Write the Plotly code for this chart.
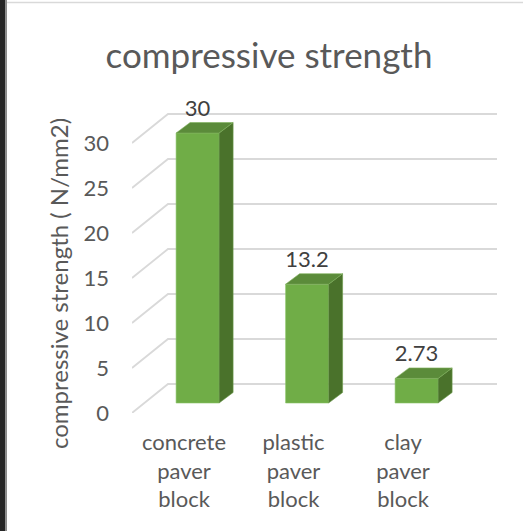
import plotly.graph_objects as go

# ---- data ----
categories = ["concrete<br>paver<br>block", "plastic<br>paver<br>block", "clay<br>paver<br>block"]
values = [30, 13.2, 2.73]
y_ticks = [0, 5, 10, 15, 20, 25, 30]
title_text = "compressive strength"
y_title = "compressive strength ( N/mm2)"

# ---- layout geometry (pixels) ----
W, H = 523, 531
L, R, T, B = 132, 505, 100, 413
PX_PER_CAT = 109.5
PX_PER_UNIT = 9.0
CAT0_PX = 184
xmin = (L - CAT0_PX) / PX_PER_CAT
xmax = (R - CAT0_PX) / PX_PER_CAT
ymax = (B - T) / PX_PER_UNIT

# 3D offsets, in axis units
BACK_DX = 36 / PX_PER_CAT
BACK_DY = 29 / PX_PER_UNIT
BACK_RIGHT = (497 - CAT0_PX) / PX_PER_CAT
BAR_DX = 13.6 / PX_PER_CAT
BAR_BASE = 10 / PX_PER_UNIT
BAR_W = 43 / PX_PER_CAT
DEPTH_DX = 14 / PX_PER_CAT
DEPTH_DY = 10.5 / PX_PER_UNIT
LABEL_OFF = 23 / PX_PER_UNIT

TXT = "#595959"
FONT = "Lato"
GRID = "#d9d9d9"
FRONT = "#70ad47"
TOP = "#5b8b3a"
SIDE = "#4a722b"

fig = go.Figure()

# back wall gridlines with floor diagonals
for v in y_ticks:
    fig.add_trace(go.Scatter(
        x=[xmin, xmin + BACK_DX, BACK_RIGHT],
        y=[v, v + BACK_DY, v + BACK_DY],
        mode="lines", line=dict(color=GRID, width=1.8),
        hoverinfo="skip", showlegend=False))

# 3D bars
for i, v in enumerate(values):
    x0 = i + BAR_DX - BAR_W / 2
    x1 = i + BAR_DX + BAR_W / 2
    b = BAR_BASE
    t = BAR_BASE + v
    # front
    fig.add_trace(go.Scatter(x=[x0, x1, x1, x0, x0], y=[b, b, t, t, b],
                             fill="toself", fillcolor=FRONT, mode="lines",
                             line=dict(width=0.6, color="#8cc46a"),
                             hoverinfo="skip", showlegend=False))
    # side
    fig.add_trace(go.Scatter(x=[x1, x1 + DEPTH_DX, x1 + DEPTH_DX, x1, x1],
                             y=[b, b + DEPTH_DY, t + DEPTH_DY, t, b],
                             fill="toself", fillcolor=SIDE, mode="lines",
                             line=dict(width=0.6, color="#6a9a4a"),
                             hoverinfo="skip", showlegend=False))
    # top
    fig.add_trace(go.Scatter(x=[x0, x1, x1 + DEPTH_DX, x0 + DEPTH_DX, x0],
                             y=[t, t, t + DEPTH_DY, t + DEPTH_DY, t],
                             fill="toself", fillcolor=TOP, mode="lines",
                             line=dict(width=0.6, color="#7fb05c"),
                             hoverinfo="skip", showlegend=False))

# data labels
fig.add_trace(go.Scatter(
    x=[i + BAR_DX for i in range(len(values))],
    y=[BAR_BASE + v + LABEL_OFF for v in values],
    text=[f"{v:g}" for v in values],
    mode="text", textposition="middle center",
    textfont=dict(family=FONT, size=22, color="#404040"),
    hoverinfo="skip", showlegend=False, cliponaxis=False))


def px_x(p):
    return (p - L) / (R - L)


def px_y(p):
    return (B - p) / (B - T)


shapes = [
    dict(type="rect", xref="paper", yref="paper", x0=px_x(0), x1=px_x(5.5),
         y0=px_y(H), y1=px_y(0), fillcolor="#262626", line=dict(width=0), layer="above"),
    dict(type="rect", xref="paper", yref="paper", x0=px_x(5.5), x1=px_x(7),
         y0=px_y(H), y1=px_y(0), fillcolor="#8c8c8c", line=dict(width=0), layer="above"),
    dict(type="line", xref="paper", yref="paper", x0=px_x(7), x1=px_x(W),
         y0=px_y(2.5), y1=px_y(2.5), line=dict(color=GRID, width=1.5)),
]

fig.update_layout(
    width=W, height=H,
    margin=dict(l=L, r=W - R, t=T, b=H - B, autoexpand=False),
    paper_bgcolor="white", plot_bgcolor="white",
    showlegend=False,
    title=dict(text=title_text, x=269 / W, xref="container", xanchor="center",
               y=1 - 56 / H, yref="container", yanchor="middle",
               font=dict(family=FONT, size=35, color=TXT)),
    xaxis=dict(range=[xmin, xmax], tickvals=list(range(len(categories))),
               ticktext=categories, showgrid=False, zeroline=False, showline=False,
               ticks="", tickfont=dict(family=FONT, size=22, color=TXT),
               ticklabelstandoff=14, fixedrange=True),
    yaxis=dict(range=[0, ymax], tickvals=y_ticks, showgrid=False, zeroline=False,
               showline=False, ticks="", tickfont=dict(family=FONT, size=22, color=TXT),
               ticklabelstandoff=22, fixedrange=True),
    annotations=[dict(text=y_title, xref="paper", yref="paper", x=px_x(58), y=px_y(284),
                      xanchor="center", yanchor="middle", textangle=-90, showarrow=False,
                      font=dict(family=FONT, size=24, color=TXT))],
    shapes=shapes,
)

fig.write_html("out.html")
